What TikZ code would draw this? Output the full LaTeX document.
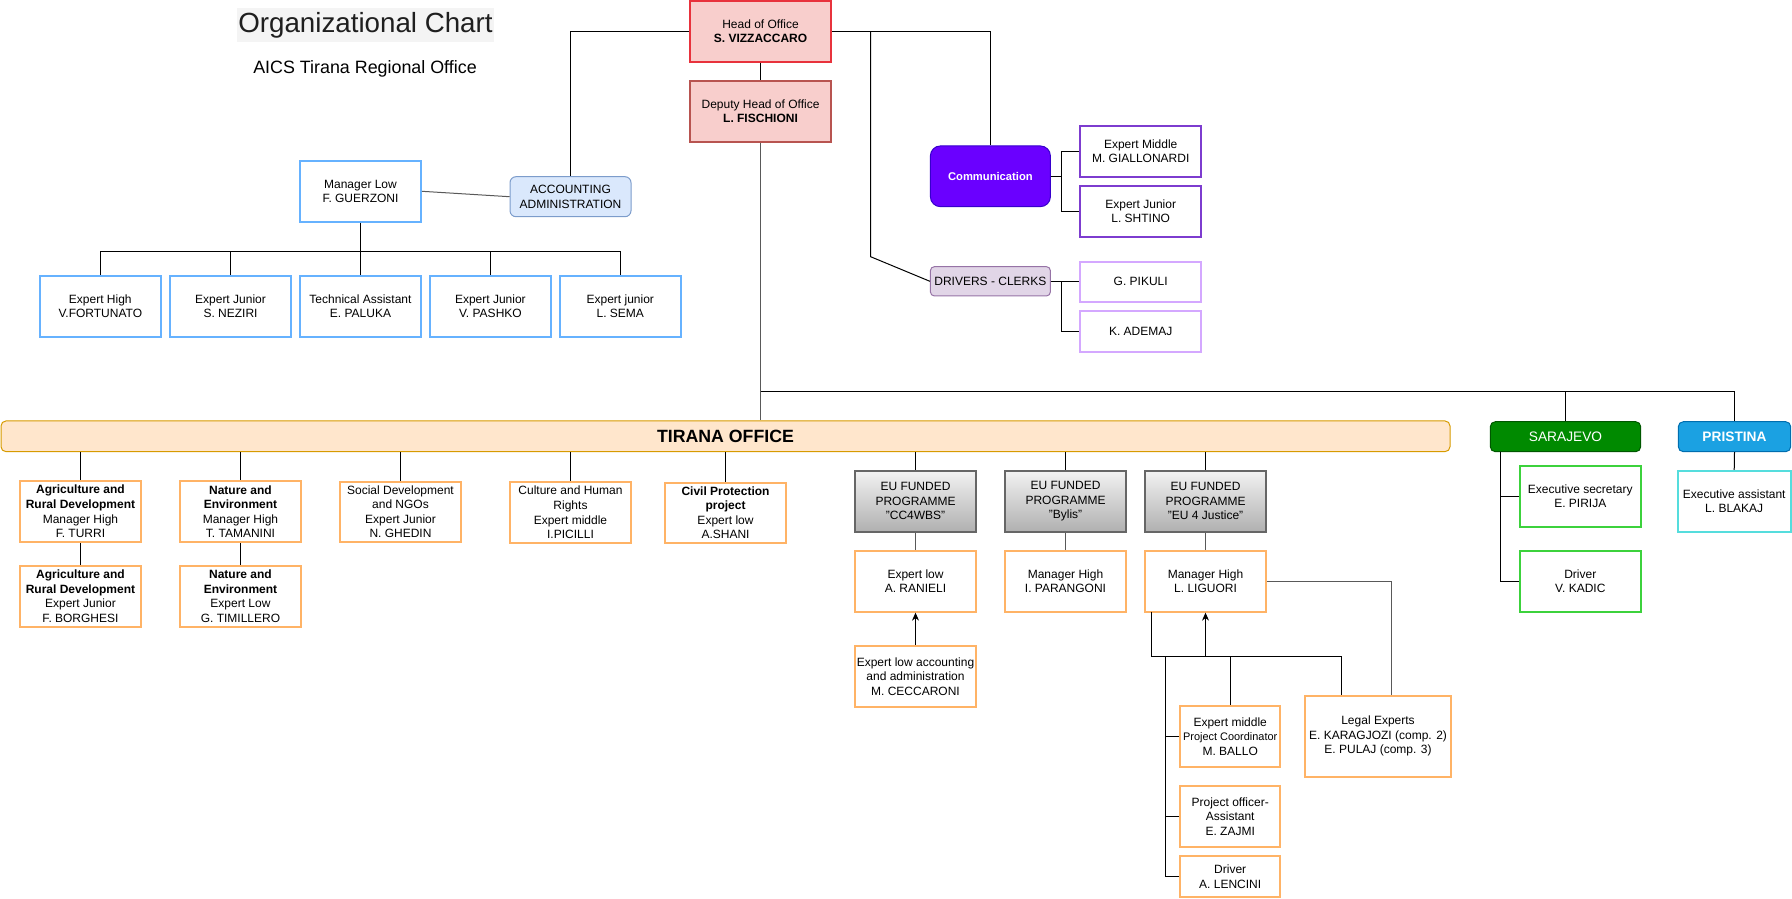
\documentclass[tikz,border=0pt]{standalone}
\usepackage{fontspec}
\setmainfont{Liberation Sans}
\usetikzlibrary{arrows.meta,calc}
\newlength\px \setlength\px{0.75pt}
\definecolor{bluec}{HTML}{66B2FF}
\definecolor{accfill}{HTML}{DAE8FC}
\definecolor{accdraw}{HTML}{7C9CCB}
\definecolor{headdraw}{HTML}{E8323C}
\definecolor{pinkfill}{HTML}{F8CECC}
\definecolor{depdraw}{HTML}{B85450}
\definecolor{commfill}{HTML}{6A00FF}
\definecolor{commdraw}{HTML}{3700CC}
\definecolor{purp}{HTML}{7D3CCF}
\definecolor{lav}{HTML}{D4A8FF}
\definecolor{drvfill}{HTML}{E1D5E7}
\definecolor{drvdraw}{HTML}{9673A6}
\definecolor{orc}{HTML}{FFB366}
\definecolor{barfill}{HTML}{FFE6CC}
\definecolor{bardraw}{HTML}{D79B00}
\definecolor{eutop}{HTML}{F2F2F2}
\definecolor{eubot}{HTML}{B0B0B0}
\definecolor{eudraw}{HTML}{666666}
\definecolor{sarfill}{HTML}{008A00}
\definecolor{sardraw}{HTML}{005700}
\definecolor{prifill}{HTML}{1BA1E2}
\definecolor{pridraw}{HTML}{006EAF}
\definecolor{grn}{HTML}{3CD23C}
\definecolor{cyn}{HTML}{55DDDD}
\definecolor{titlebg}{HTML}{F4F4F4}
\newcommand\fs{\fontsize{9}{10.9}\selectfont}
\tikzset{
  wh/.style 2 args={minimum width=#1\px, minimum height=#2\px},
  bx/.style={rectangle, draw, inner sep=1pt, align=center, font=\fs, text=black},
  bluebox/.style={bx, draw=bluec, line width=1.5pt},
  orbox/.style={bx, draw=orc, line width=1.5pt},
  purbox/.style={bx, draw=purp, line width=1.5pt},
  lavbox/.style={bx, draw=lav, line width=1.5pt},
  grnbox/.style={bx, draw=grn, line width=1.5pt},
  cynbox/.style={bx, draw=cyn, line width=1.5pt},
  eubox/.style={bx, draw=eudraw, line width=1.5pt, top color=eutop, bottom color=eubot},
  conn/.style={draw=black, line width=0.75pt},
  gconn/.style={draw=black!65, line width=0.75pt},
  arr/.style={conn, -{Stealth[length=6pt,width=5.25pt]}},
}
\begin{document}
\begin{tikzpicture}[x=0.75pt,y=-0.75pt]
\useasboundingbox (0,0) rectangle (1792,899);

% Title
\fill[titlebg] (237,8) rectangle (494,42);
\node[font=\fontsize{20.8}{24}\selectfont, text=black!88, inner sep=0] (title) at (365.5,25.5) {Organizational Chart};
\node[font=\fontsize{13.4}{16}\selectfont, text=black, inner sep=0] (subtitle) at (365,68.5) {AICS Tirana Regional Office};

% Top management
\node[bx, draw=headdraw, fill=pinkfill, line width=1.5pt, wh={141}{60.7}] (head) at (760.5,31.3) {Head of Office\\\textbf{S. VIZZACCARO}};
\node[bx, draw=depdraw, fill=pinkfill, line width=1.5pt, wh={141}{61}] (dep) at (760.5,111.2) {Deputy Head of Office\\\textbf{L. FISCHIONI}};

% Accounting
\node[bx, draw=accdraw, fill=accfill, line width=0.75pt, rounded corners=6\px, wh={121}{40}] (acc) at (570.5,196.7) {ACCOUNTING\\ADMINISTRATION};
\node[bluebox, wh={121}{60.7}] (mgr) at (360.5,191.3) {Manager Low\\F. GUERZONI};
\node[bluebox, wh={121}{60.7}] (e1) at (100.3,306.3) {Expert High\\V.FORTUNATO};
\node[bluebox, wh={121}{60.7}] (e2) at (230.5,306.3) {Expert Junior\\S. NEZIRI};
\node[bluebox, wh={121}{60.7}] (e3) at (360.5,306.3) {Technical Assistant\\E. PALUKA};
\node[bluebox, wh={121}{60.7}] (e4) at (490.4,306.3) {Expert Junior\\V. PASHKO};
\node[bluebox, wh={121}{60.7}] (e5) at (620.3,306.3) {Expert junior\\L. SEMA};

% Communication and drivers
\node[bx, draw=commdraw, fill=commfill, line width=0.75pt, rounded corners=10\px, wh={120}{60.7}, text=white, font=\fontsize{8.4}{10}\selectfont\bfseries] (comm) at (990.4,176.3) {Communication};
\node[purbox, wh={121}{50.7}] (expm) at (1140.7,151.3) {Expert Middle\\M. GIALLONARDI};
\node[purbox, wh={121}{50.7}] (expj) at (1140.7,211.3) {Expert Junior\\L. SHTINO};
\node[bx, draw=drvdraw, fill=drvfill, line width=0.75pt, rounded corners=4\px, wh={120}{29.3}] (drv) at (990.4,281.3) {DRIVERS - CLERKS};
\node[lavbox, wh={121}{40}] (pik) at (1140.7,281.7) {G. PIKULI};
\node[lavbox, wh={121}{41}] (ade) at (1140.7,331.2) {K. ADEMAJ};

% Offices bar
\node[bx, draw=bardraw, fill=barfill, line width=0.75pt, rounded corners=5\px, wh={1449}{30.7}, font=\fontsize{13.3}{16}\selectfont\bfseries] (bar) at (725.5,436.3) {TIRANA OFFICE};
\node[bx, draw=sardraw, fill=sarfill, line width=0.75pt, rounded corners=5\px, wh={150.4}{30}, text=white, font=\fontsize{10.3}{12}\selectfont] (sar) at (1565.5,436.7) {SARAJEVO};
\node[bx, draw=pridraw, fill=prifill, line width=0.75pt, rounded corners=5\px, wh={112.4}{30}, text=white, font=\fontsize{10.3}{12}\selectfont\bfseries] (pri) at (1734.5,436.7) {PRISTINA};
\node[grnbox, wh={120.7}{60.7}] (exsec) at (1580.3,496.3) {Executive secretary\\E. PIRIJA};
\node[grnbox, wh={120.7}{61}] (kadic) at (1580.3,581.2) {Driver\\V. KADIC};
\node[cynbox, wh={113}{60.7}] (exas) at (1734.2,501.3) {Executive assistant\\L. BLAKAJ};

% Tirana units
\node[orbox, wh={121}{61}] (ag1) at (80.5,511.5) {\textbf{Agriculture and}\\\textbf{Rural Development}\\Manager High\\F. TURRI};
\node[orbox, wh={121}{60.7}] (ag2) at (80.5,596.3) {\textbf{Agriculture and}\\\textbf{Rural Development}\\Expert Junior\\F. BORGHESI};
\node[orbox, wh={121}{61}] (na1) at (240.5,511.5) {\textbf{Nature and}\\\textbf{Environment}\\Manager High\\T. TAMANINI};
\node[orbox, wh={121}{60.7}] (na2) at (240.5,596.3) {\textbf{Nature and}\\\textbf{Environment}\\Expert Low\\G. TIMILLERO};
\node[orbox, wh={121}{60}] (soc) at (400.5,511.7) {Social Development\\and NGOs\\Expert Junior\\N. GHEDIN};
\node[orbox, wh={121}{60.4}] (cul) at (570.5,512.5) {Culture and Human\\Rights\\Expert middle\\I.PICILLI};
\node[orbox, wh={121}{60.4}] (civ) at (725.5,512.7) {\textbf{Civil Protection}\\\textbf{project}\\Expert low\\A.SHANI};

% EU programmes
\node[eubox, wh={121}{60.7}] (eu1) at (915.5,501.3) {EU FUNDED\\PROGRAMME\\"CC4WBS"};
\node[eubox, wh={121}{60.7}] (eu2) at (1065.5,501.3) {EU FUNDED\\PROGRAMME\\"Bylis"};
\node[eubox, wh={121}{60.7}] (eu3) at (1205.5,501.3) {EU FUNDED\\PROGRAMME\\"EU 4 Justice"};
\node[orbox, wh={121}{60.7}] (ran) at (915.5,581.3) {Expert low\\A. RANIELI};
\node[orbox, wh={121}{60.7}] (cec) at (915.5,676.3) {Expert low accounting\\and administration\\M. CECCARONI};
\node[orbox, wh={121}{60.7}] (par) at (1065.5,581.3) {Manager High\\I. PARANGONI};
\node[orbox, wh={121}{60.7}] (lig) at (1205.5,581.3) {Manager High\\L. LIGUORI};
\node[orbox, wh={100.3}{60.7}] (ballo) at (1230.2,736.3) {Expert middle\\{\fontsize{8.2}{10}\selectfont Project Coordinator}\\M. BALLO};
\node[orbox, wh={100.3}{60.7}] (zajmi) at (1230.2,816.3) {Project officer-\\Assistant\\E. ZAJMI};
\node[orbox, wh={100.3}{41}] (lenc) at (1230.2,876.5) {Driver\\A. LENCINI};
\node[orbox, wh={146}{80.7}] (legal) at (1378,736.3) {Legal Experts\\E. KARAGJOZI (comp. 2)\\E. PULAJ (comp. 3)};

% ---------- connectors ----------
\draw[conn] (head.west) -| (acc.north);
\draw[gconn] (mgr.east) -- (acc.west);
\draw[conn] (head.south) -- (dep.north);
\draw[conn] (head.east) -| (comm.north);
\coordinate (j1) at (870.6,31.3);
\coordinate (j2) at (870.6,256.7);
\draw[conn] (j1) -- (j2) -- (drv.west);
\draw[conn] (comm.east) -- ++(10.3,0) |- (expm.west);
\draw[conn] (comm.east) -- ++(10.3,0) |- (expj.west);
\draw[conn] (drv.east) -- ++(10.3,0) |- (pik.west);
\draw[conn] (drv.east) -- ++(10.3,0) |- (ade.west);

% accounting experts
\coordinate (bus) at (360.5,251.7);
\draw[conn] (mgr.south) -- (e3.north);
\draw[conn] (e1.north) |- (bus) -| (e5.north);
\draw[conn] (e2.north) -- (e2.north |- bus);
\draw[conn] (e4.north) -- (e4.north |- bus);

% deputy to offices
\coordinate (hj) at (760.5,391.7);
\draw[gconn] (dep.south) -- (dep.south |- bar.north);
\draw[conn] (hj) -| (pri.north);
\draw[conn] (sar.north) -- (sar.north |- hj);

% bar to units
\foreach \n in {ag1,na1,soc,cul,civ,eu1,eu2,eu3}
  \draw[conn] (\n.north |- bar.south) -- (\n.north);
\draw[conn] (ag1.south) -- (ag2.north);
\draw[conn] (na1.south) -- (na2.north);
\draw[gconn] (eu1.south) -- (ran.north);
\draw[gconn] (eu2.south) -- (par.north);
\draw[gconn] (eu3.south) -- (lig.north);
\draw[arr] (cec.north) -- (ran.south);

% Sarajevo / Pristina
\coordinate (s0) at (1500.7,451.7);
\draw[conn] (s0) |- (exsec.west);
\draw[conn] (s0) |- (kadic.west);
\draw[conn] (pri.south) -- (exas.north);

% EU 4 Justice team
\draw[gconn] (lig.east) -| ([xshift=13.7\px]legal.north);
\coordinate (l0) at (1151.3,611.7);
\coordinate (lbus) at (1151.3,656.3);
\draw[conn] (l0) -- (lbus) -| ([xshift=-36.3\px]legal.north);
\draw[arr] (lig.south |- lbus) -- (lig.south);
\draw[conn] (ballo.north |- lbus) -- (ballo.north);
\coordinate (v0) at (1165.3,656.3);
\draw[conn] (v0) |- (ballo.west);
\draw[conn] (v0) |- (zajmi.west);
\draw[conn] (v0) |- (lenc.west);
\end{tikzpicture}
\end{document}
